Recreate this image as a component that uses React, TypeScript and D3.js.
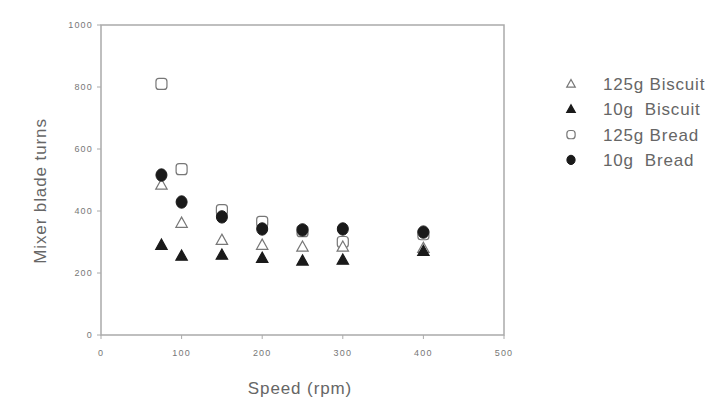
import React from "react";
import * as d3 from "d3";

const speeds = [75, 100, 150, 200, 250, 300, 400];
const biscuit125 = [484, 361, 306, 290, 284, 284, 280];
const biscuit10 = [290, 255, 258, 248, 239, 242, 270];
const bread125 = [810, 535, 403, 365, 335, 300, 325];
const bread10 = [516, 429, 381, 342, 339, 342, 332];
const xTicks = [0, 100, 200, 300, 400, 500];
const yTicks = [0, 200, 400, 600, 800, 1000];
const legendLabels = ["125g Biscuit", "10g  Biscuit", "125g Bread", "10g  Bread"];

const W = 712, H = 403;
const m = { left: 101, right: 504, top: 25, bottom: 335 };

type Shape = "tri" | "square" | "circle";
const series: { vals: number[]; shape: Shape; filled: boolean; label: string }[] = [
  { vals: bread125, shape: "square", filled: false, label: legendLabels[2] },
  { vals: biscuit125, shape: "tri", filled: false, label: legendLabels[0] },
  { vals: biscuit10, shape: "tri", filled: true, label: legendLabels[1] },
  { vals: bread10, shape: "circle", filled: true, label: legendLabels[3] },
];

function Marker({ x, y, shape, filled, size = 1 }: { x: number; y: number; shape: Shape; filled: boolean; size?: number }) {
  const fill = filled ? "#1a1a1a" : "#fff";
  const stroke = filled ? "#1a1a1a" : "#777";
  if (shape === "tri") {
    const r = 6 * size;
    const p = `${x},${y - r} ${x + r * 0.95},${y + r * 0.7} ${x - r * 0.95},${y + r * 0.7}`;
    return <polygon points={p} fill={fill} stroke={stroke} strokeWidth={1.2} />;
  }
  if (shape === "square") {
    const s = 11 * size;
    return <rect x={x - s / 2} y={y - s / 2} width={s} height={s} rx={3} fill={fill} stroke={stroke} strokeWidth={1.2} />;
  }
  return <ellipse cx={x} cy={y} rx={5.5 * size} ry={6.2 * size} fill={fill} stroke={stroke} strokeWidth={1} />;
}

export default function App() {
  const x = d3.scaleLinear().domain([0, 500]).range([m.left, m.right]);
  const y = d3.scaleLinear().domain([0, 1000]).range([m.bottom, m.top]);
  const legendOrder = [series[1], series[2], series[0], series[3]];
  const font = "Arial, 'Liberation Sans', sans-serif";
  return (
    <svg width={W} height={H} style={{ position: "absolute", left: 0, top: 0, background: "#fff" }} fontFamily={font}>
      <rect x={m.left} y={m.top} width={m.right - m.left} height={m.bottom - m.top} fill="none" stroke="#aaa" strokeWidth={1.5} />
      {yTicks.map((t) => (
        <g key={"y" + t}>
          <line x1={m.left - 4} x2={m.left} y1={y(t)} y2={y(t)} stroke="#aaa" />
          <text x={m.left - 8} y={y(t) + 3} textAnchor="end" fontSize={9} letterSpacing={1.2} fill="#777">{t}</text>
        </g>
      ))}
      {xTicks.map((t) => (
        <g key={"x" + t}>
          <line x1={x(t)} x2={x(t)} y1={m.bottom} y2={m.bottom + 4} stroke="#aaa" />
          <text x={x(t)} y={m.bottom + 21} textAnchor="middle" fontSize={9} letterSpacing={1.2} fill="#777">{t}</text>
        </g>
      ))}
      <text x={300} y={394} textAnchor="middle" fontSize={17} letterSpacing={0.9} fill="#666">Speed (rpm)</text>
      <text transform={`translate(46,${191}) rotate(-90)`} textAnchor="middle" fontSize={17} letterSpacing={0.9} fill="#666">Mixer blade turns</text>
      {series.map((s, i) => (
        <g key={"s" + i}>
          {s.vals.map((v, j) => (
            <Marker key={j} x={x(speeds[j])} y={y(v)} shape={s.shape} filled={s.filled} />
          ))}
        </g>
      ))}
      {legendOrder.map((s, i) => (
        <g key={"l" + i}>
          <Marker x={571} y={84 + i * 25.3} shape={s.shape} filled={s.filled} size={0.75} />
          <text x={603} y={90 + i * 25.3} fontSize={17} letterSpacing={0.8} fill="#666" style={{ whiteSpace: "pre" }}>{s.label}</text>
        </g>
      ))}
    </svg>
  );
}
